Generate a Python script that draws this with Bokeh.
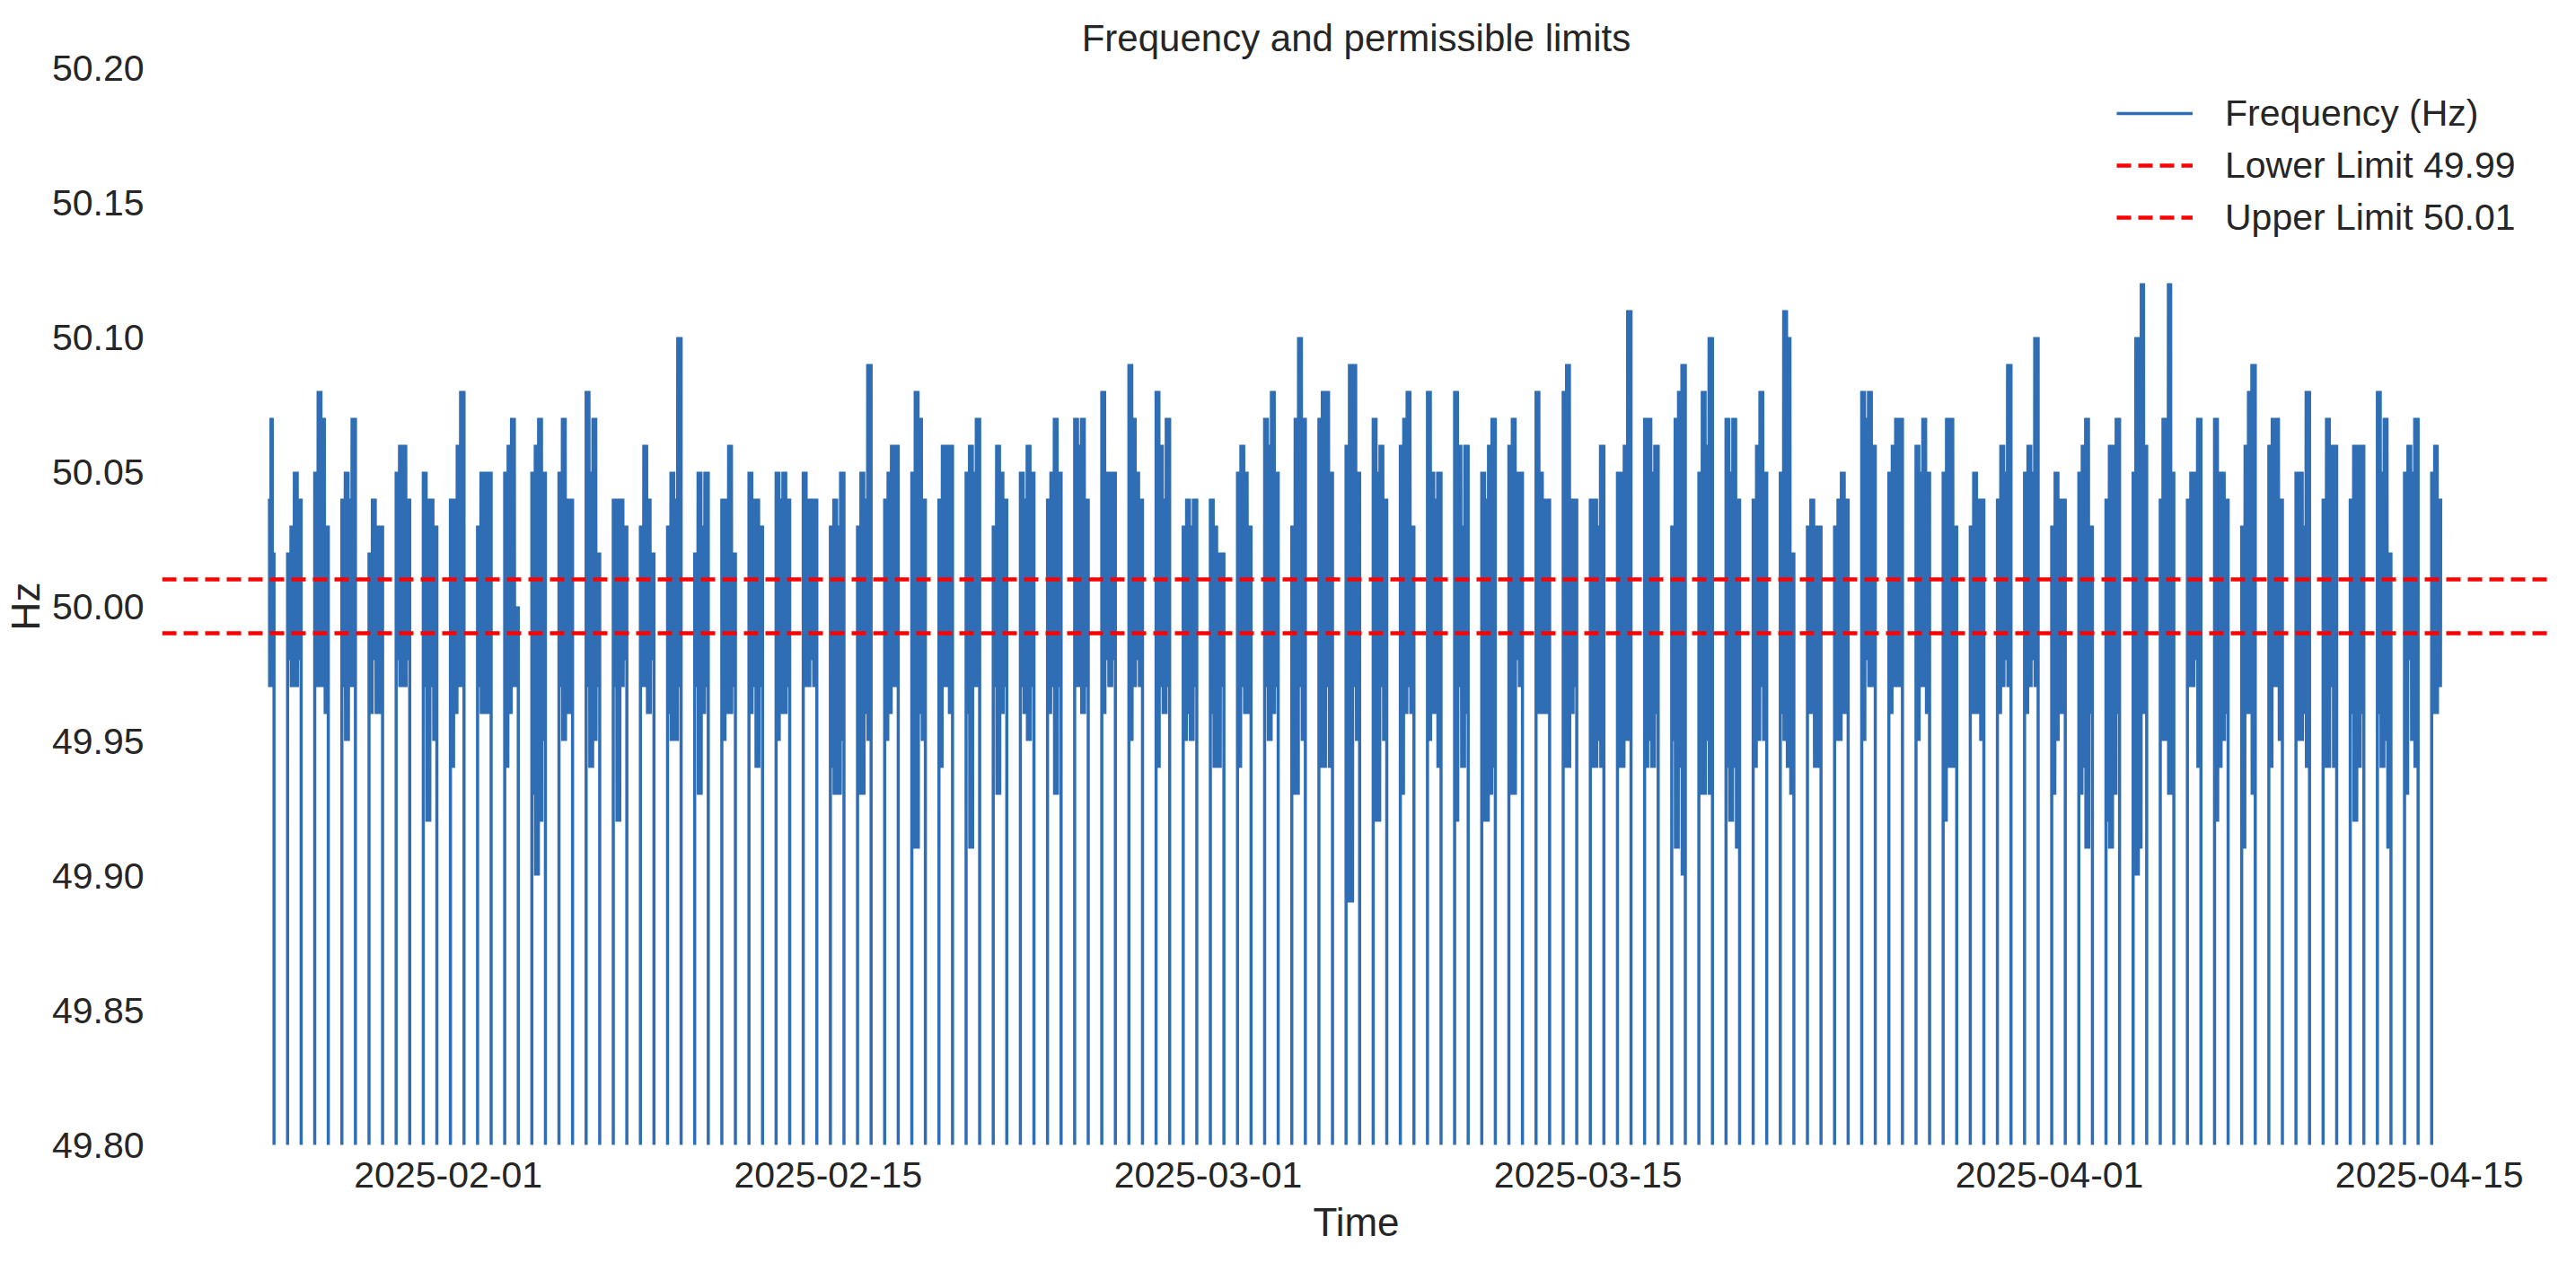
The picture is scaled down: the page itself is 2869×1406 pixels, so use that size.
import datetime as dt
from bokeh.plotting import figure
from bokeh.models import (Range1d, FixedTicker, NumeralTickFormatter,
                          DatetimeTickFormatter, Legend, LegendItem)
from bokeh.embed import file_html
from bokeh.resources import INLINE

# ---------------- data ----------------
first_day = dt.datetime(2025, 1, 25)
n_days = 81
block_start_hour = 2          # daily measurement window start
block_end_hour = 14           # daily measurement window end
first_block_start_hour = 10   # series begins mid-window
last_block_end_hour = 10      # series ends mid-window
gap_value = 0.0               # recorded value outside the window
samples_per_slot = 12

lower_limit = 49.99
upper_limit = 50.01

# upper envelope of each day's readings, in time order (Hz)
block_highs = [
    [50.04, 50.07, 50.02],
    [50.02, 50.03, 50.05, 50.04],
    [50.05, 50.08, 50.07, 50.03],
    [50.04, 50.05, 50.04, 50.07],
    [50.02, 50.04, 50.03, 50.03],
    [50.05, 50.06, 50.06, 50.04],
    [50.05, 50.04, 50.04, 50.03],
    [50.04, 50.04, 50.06, 50.08],
    [50.03, 50.05, 50.05, 50.05],
    [50.05, 50.06, 50.07, 50.00],
    [50.05, 50.06, 50.07, 50.05],
    [50.05, 50.07, 50.04, 50.04],
    [50.08, 50.05, 50.07, 50.02],
    [50.04, 50.04, 50.04, 50.03],
    [50.03, 50.06, 50.04, 50.02],
    [50.03, 50.05, 50.04, 50.10],
    [50.02, 50.05, 50.03, 50.05],
    [50.04, 50.04, 50.06, 50.02],
    [50.05, 50.04, 50.04, 50.03],
    [50.05, 50.04, 50.05, 50.04],
    [50.05, 50.04, 50.04, 50.04],
    [50.03, 50.04, 50.03, 50.05],
    [50.03, 50.05, 50.04, 50.09],
    [50.04, 50.05, 50.06, 50.06],
    [50.05, 50.08, 50.07, 50.04],
    [50.04, 50.06, 50.06, 50.06],
    [50.05, 50.06, 50.05, 50.07],
    [50.03, 50.06, 50.05, 50.04],
    [50.05, 50.04, 50.06, 50.05],
    [50.04, 50.05, 50.07, 50.05],
    [50.07, 50.06, 50.07, 50.04],
    [50.08, 50.05, 50.05, 50.05],
    [50.09, 50.07, 50.05, 50.04],
    [50.08, 50.06, 50.04, 50.07],
    [50.03, 50.04, 50.03, 50.04],
    [50.04, 50.03, 50.02, 50.02],
    [50.05, 50.06, 50.05, 50.03],
    [50.07, 50.06, 50.08, 50.05],
    [50.03, 50.07, 50.10, 50.07],
    [50.07, 50.08, 50.08, 50.05],
    [50.06, 50.09, 50.09, 50.05],
    [50.07, 50.05, 50.06, 50.04],
    [50.06, 50.07, 50.08, 50.03],
    [50.08, 50.05, 50.04, 50.05],
    [50.08, 50.06, 50.03, 50.06],
    [50.05, 50.04, 50.06, 50.07],
    [50.06, 50.07, 50.05, 50.05],
    [50.08, 50.05, 50.04, 50.04],
    [50.08, 50.09, 50.04, 50.04],
    [50.04, 50.04, 50.03, 50.06],
    [50.05, 50.05, 50.06, 50.11],
    [50.07, 50.07, 50.05, 50.06],
    [50.03, 50.07, 50.08, 50.09],
    [50.05, 50.08, 50.06, 50.10],
    [50.07, 50.05, 50.07, 50.04],
    [50.04, 50.06, 50.08, 50.05],
    [50.05, 50.11, 50.10, 50.02],
    [50.03, 50.04, 50.03, 50.03],
    [50.03, 50.04, 50.05, 50.04],
    [50.08, 50.07, 50.08, 50.06],
    [50.05, 50.06, 50.07, 50.07],
    [50.06, 50.05, 50.07, 50.05],
    [50.05, 50.07, 50.07, 50.03],
    [50.03, 50.05, 50.04, 50.04],
    [50.04, 50.06, 50.05, 50.09],
    [50.05, 50.06, 50.05, 50.10],
    [50.03, 50.05, 50.04, 50.04],
    [50.05, 50.06, 50.07, 50.03],
    [50.04, 50.06, 50.06, 50.07],
    [50.05, 50.10, 50.07, 50.12, 50.06],
    [50.04, 50.07, 50.05, 50.12, 50.05],
    [50.04, 50.05, 50.05, 50.07],
    [50.07, 50.05, 50.05, 50.04],
    [50.03, 50.06, 50.08, 50.09],
    [50.06, 50.07, 50.07, 50.04],
    [50.05, 50.05, 50.03, 50.08],
    [50.04, 50.07, 50.06, 50.06],
    [50.04, 50.06, 50.06, 50.06],
    [50.08, 50.05, 50.07, 50.02],
    [50.05, 50.06, 50.05, 50.07],
    [50.05, 50.06, 50.04],
]

# lower envelope of each day's readings, in time order (Hz)
block_lows = [
    [49.97, 49.97, 49.98],
    [49.98, 49.97, 49.97, 49.98],
    [49.97, 49.97, 49.97, 49.96],
    [49.97, 49.95, 49.97, 49.97],
    [49.96, 49.98, 49.96, 49.96],
    [49.98, 49.97, 49.97, 49.98],
    [49.97, 49.92, 49.97, 49.95],
    [49.94, 49.96, 49.97, 49.97],
    [49.97, 49.96, 49.96, 49.96],
    [49.94, 49.96, 49.97, 49.97],
    [49.93, 49.90, 49.92, 49.95],
    [49.97, 49.95, 49.96, 49.96],
    [49.97, 49.94, 49.95, 49.97],
    [49.97, 49.92, 49.97, 49.98],
    [49.97, 49.97, 49.96, 49.98],
    [49.96, 49.95, 49.95, 49.97],
    [49.97, 49.93, 49.96, 49.97],
    [49.95, 49.96, 49.96, 49.97],
    [49.96, 49.97, 49.94, 49.97],
    [49.95, 49.96, 49.96, 49.97],
    [49.97, 49.97, 49.98, 49.97],
    [49.94, 49.93, 49.93, 49.95],
    [49.93, 49.93, 49.96, 49.95],
    [49.95, 49.96, 49.97, 49.97],
    [49.91, 49.91, 49.96, 49.95],
    [49.94, 49.97, 49.97, 49.96],
    [49.96, 49.91, 49.97, 49.97],
    [49.97, 49.93, 49.96, 49.97],
    [49.97, 49.96, 49.95, 49.97],
    [49.96, 49.97, 49.93, 49.97],
    [49.97, 49.97, 49.96, 49.97],
    [49.96, 49.98, 49.97, 49.98],
    [49.95, 49.97, 49.98, 49.97],
    [49.94, 49.97, 49.96, 49.97],
    [49.95, 49.96, 49.95, 49.97],
    [49.96, 49.94, 49.94, 49.97],
    [49.94, 49.97, 49.96, 49.96],
    [49.97, 49.95, 49.96, 49.97],
    [49.93, 49.93, 49.97, 49.95],
    [49.94, 49.94, 49.97, 49.94],
    [49.89, 49.89, 49.97, 49.95],
    [49.92, 49.92, 49.97, 49.95],
    [49.93, 49.96, 49.97, 49.96],
    [49.95, 49.96, 49.96, 49.94],
    [49.92, 49.97, 49.94, 49.96],
    [49.92, 49.92, 49.93, 49.94],
    [49.93, 49.93, 49.98, 49.97],
    [49.96, 49.96, 49.96, 49.96],
    [49.94, 49.94, 49.96, 49.97],
    [49.94, 49.94, 49.95, 49.94],
    [49.94, 49.94, 49.95, 49.95],
    [49.94, 49.95, 49.94, 49.96],
    [49.95, 49.91, 49.94, 49.90],
    [49.93, 49.93, 49.95, 49.93],
    [49.94, 49.92, 49.94, 49.91],
    [49.94, 49.95, 49.97, 49.95],
    [49.96, 49.95, 49.94, 49.93],
    [49.96, 49.96, 49.94, 49.94],
    [49.95, 49.95, 49.96, 49.96],
    [49.95, 49.98, 49.97, 49.97],
    [49.96, 49.97, 49.97, 49.97],
    [49.95, 49.97, 49.97, 49.96],
    [49.92, 49.94, 49.94, 49.94],
    [49.96, 49.96, 49.96, 49.95],
    [49.96, 49.97, 49.98, 49.97],
    [49.96, 49.97, 49.98, 49.97],
    [49.93, 49.95, 49.96, 49.96],
    [49.93, 49.94, 49.91, 49.96],
    [49.92, 49.91, 49.93, 49.96],
    [49.96, 49.90, 49.91, 49.96, 49.96],
    [49.95, 49.95, 49.97, 49.93, 49.93],
    [49.97, 49.97, 49.98, 49.94],
    [49.92, 49.94, 49.95, 49.96],
    [49.91, 49.96, 49.96, 49.93],
    [49.94, 49.97, 49.97, 49.95],
    [49.95, 49.95, 49.96, 49.94],
    [49.94, 49.94, 49.97, 49.94],
    [49.96, 49.92, 49.94, 49.96],
    [49.96, 49.94, 49.95, 49.91],
    [49.93, 49.98, 49.95, 49.94],
    [49.96, 49.96, 49.97],
]

y_ticks = [49.80, 49.85, 49.90, 49.95, 50.00, 50.05, 50.10, 50.15, 50.20]
x_tick_dates = ["2025-02-01", "2025-02-15", "2025-03-01",
                "2025-03-15", "2025-04-01", "2025-04-15"]
x_view_start = dt.datetime(2025, 1, 21, 11, 0)
x_view_end = dt.datetime(2025, 4, 19, 11, 0)
y_view = (49.80, 50.20)

# ---------------- build the time series ----------------
times, freq = [], []
for k in range(n_days):
    day = first_day + dt.timedelta(days=k)
    h0 = first_block_start_hour if k == 0 else block_start_hour
    h1 = last_block_end_hour if k == n_days - 1 else block_end_hour
    t0 = day + dt.timedelta(hours=h0)
    t1 = day + dt.timedelta(hours=h1)
    highs, lows = block_highs[k], block_lows[k]
    n = len(highs)
    m = samples_per_slot * n
    if k > 0:
        times.append(t0)
        freq.append(gap_value)
    for j in range(m + 1):
        s = min(j * n // m, n - 1)
        times.append(t0 + (t1 - t0) * j / m)
        freq.append(highs[s] if j % 2 == 0 else lows[s])
    if k < n_days - 1:
        times.append(t1)
        freq.append(gap_value)

# ---------------- figure ----------------
FONT = "Liberation Sans"
TXT = "#262626"

p = figure(width=2853, height=1390, x_axis_type="datetime",
           output_backend="svg", toolbar_location=None,
           x_range=Range1d(x_view_start, x_view_end),
           y_range=Range1d(*y_view),
           min_border_left=180, min_border_right=13,
           min_border_top=75, min_border_bottom=115,
           background_fill_color="white", border_fill_color="white")
p.outline_line_color = None
p.grid.visible = False

p.title.text = "Frequency and permissible limits"
p.title.align = "center"
p.title.text_font = FONT
p.title.text_font_size = "42px"
p.title.text_font_style = "normal"
p.title.text_color = TXT
p.title.standoff = 19

r_freq = p.line(times, freq, line_color="#2f6eb4", line_width=3.5)
r_low = p.line([x_view_start, x_view_end], [lower_limit, lower_limit],
               line_color="#ff0000", line_width=4.5, line_dash="16 8")
r_up = p.line([x_view_start, x_view_end], [upper_limit, upper_limit],
              line_color="#ff0000", line_width=4.5, line_dash="16 8")

epoch = dt.datetime(1970, 1, 1)
tick_ms = [(dt.datetime.strptime(d, "%Y-%m-%d") - epoch).total_seconds() * 1000
           for d in x_tick_dates]
p.xaxis.ticker = FixedTicker(ticks=tick_ms)
fmt = "%Y-%m-%d"
p.xaxis.formatter = DatetimeTickFormatter(days=fmt, months=fmt, years=fmt,
                                          hours=fmt, minutes=fmt, seconds=fmt,
                                          milliseconds=fmt, microseconds=fmt,
                                          hourmin=fmt, minsec=fmt)
p.yaxis.ticker = FixedTicker(ticks=y_ticks)
p.yaxis.formatter = NumeralTickFormatter(format="0.00")

for ax in (p.xaxis[0], p.yaxis[0]):
    ax.axis_line_color = None
    ax.major_tick_line_color = None
    ax.minor_tick_line_color = None
    ax.major_tick_in = 0
    ax.major_tick_out = 0
    ax.minor_tick_in = 0
    ax.minor_tick_out = 0
    ax.major_label_text_font = FONT
    ax.major_label_text_font_size = "41px"
    ax.major_label_text_color = TXT
    ax.major_label_text_line_height = 1.0
    ax.axis_label_text_font = FONT
    ax.axis_label_text_font_size = "44px"
    ax.axis_label_text_font_style = "normal"
    ax.axis_label_text_color = TXT
    ax.axis_label_text_line_height = 1.0

p.xaxis.axis_label = "Time"
p.yaxis.axis_label = "Hz"
p.xaxis.major_label_standoff = 19
p.xaxis.axis_label_standoff = 11
p.yaxis.major_label_standoff = 20
p.yaxis.axis_label_standoff = 2

legend = Legend(items=[
    LegendItem(label="Frequency (Hz)", renderers=[r_freq]),
    LegendItem(label="Lower Limit 49.99", renderers=[r_low]),
    LegendItem(label="Upper Limit 50.01", renderers=[r_up]),
], location=(2177, 1008))
legend.border_line_color = None
legend.background_fill_alpha = 0
legend.padding = 0
legend.margin = 0
legend.spacing = 8
legend.glyph_width = 85
legend.glyph_height = 50
legend.label_standoff = 36
legend.label_text_font = FONT
legend.label_text_font_size = "41px"
legend.label_text_color = TXT
p.add_layout(legend)

open("out.html", "w").write(file_html(p, INLINE))
